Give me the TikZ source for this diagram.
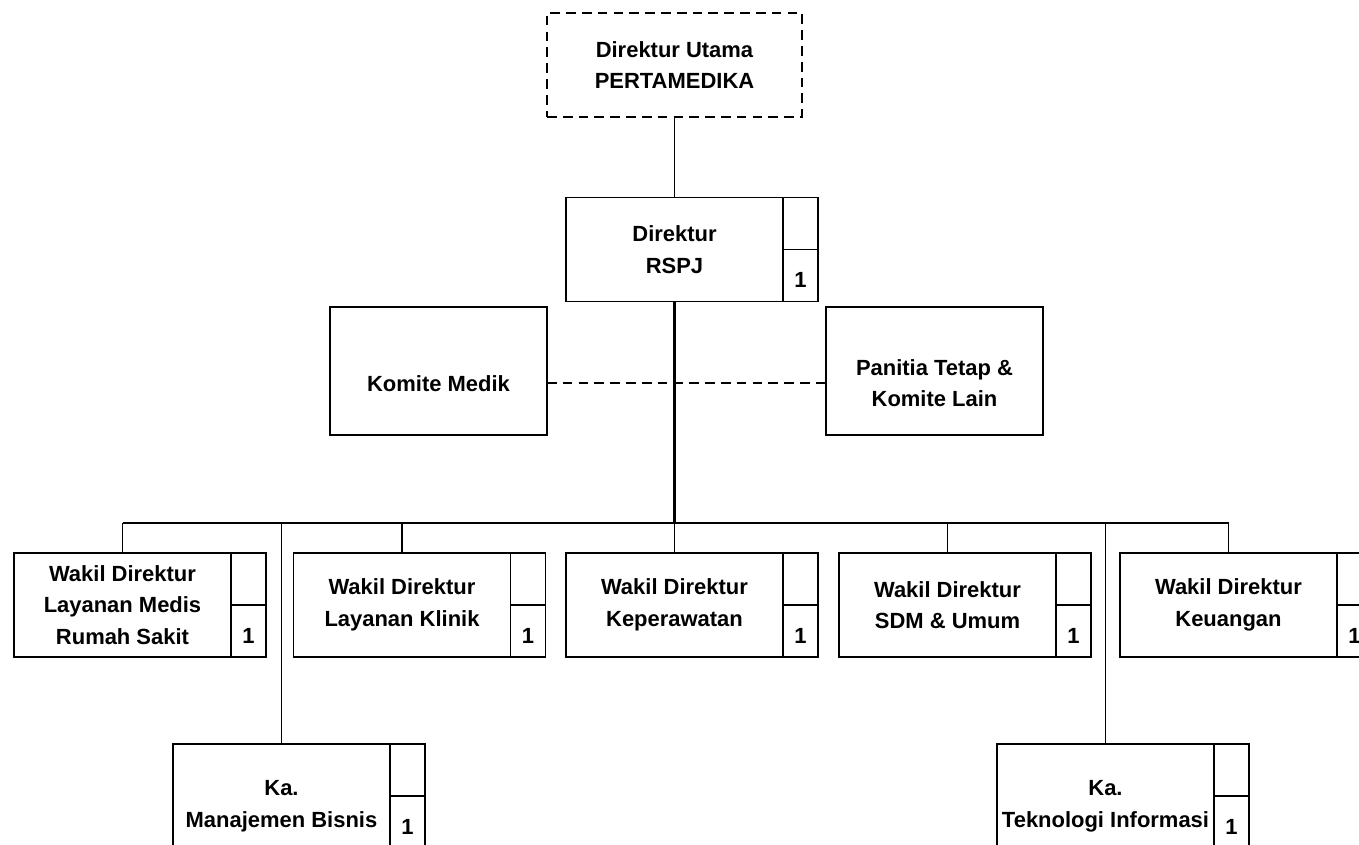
\documentclass[tikz,border=0pt]{standalone}
\usepackage{fontspec}
\setmainfont{Liberation Sans}
\usetikzlibrary{positioning}

\begin{document}
\begin{tikzpicture}[x=0.02cm, y=-0.02cm, node distance=0pt, thick,
    unit/.style={draw, line width=1.1pt, outer sep=0pt, inner sep=0pt, minimum width=4.34cm, minimum height=2.08cm, align=center, font=\bfseries\fontsize{12.5}{18}\selectfont},
    cell/.style={draw, line width=1.1pt, outer sep=0pt, inner sep=0pt, minimum width=0.7cm, minimum height=1.04cm, text height=14pt, text depth=0pt, font=\bfseries\fontsize{12.5}{18}\selectfont},
    staff/.style={unit, minimum height=2.56cm, text height=23pt},
    link/.style={line width=0.8pt}]
  \useasboundingbox (0,0) rectangle (1359,845);

  % top level
  \node[unit, dash pattern=on 5.5pt off 3.5pt, minimum width=5.1cm] (utama) at (674.5,65) {Direktur Utama\\PERTAMEDIKA};
  \node[unit] (direktur) at (674.5,249.5) {Direktur\\RSPJ};
  \node[cell, below right=of direktur.north east] (direkturA) {};
  \node[cell, below=of direkturA] (direkturB) {1};

  % staff
  \node[staff] (komite) at (438.5,371) {Komite Medik};
  \node[staff, text height=40.7pt] (panitia) at (934.5,371) {Panitia Tetap \&\\Komite Lain};
  \coordinate (staffLine) at (674.5,383);

  % wakil direktur
  \node[unit] (wdMedis) at (122.5,605) {Wakil Direktur\\Layanan Medis\\Rumah Sakit};
  \node[cell, below right=of wdMedis.north east] (wdMedisA) {};
  \node[cell, below=of wdMedisA] (wdMedisB) {1};
  \node[unit] (wdKlinik) at (402,605) {Wakil Direktur\\Layanan Klinik};
  \node[cell, below right=of wdKlinik.north east] (wdKlinikA) {};
  \node[cell, below=of wdKlinikA] (wdKlinikB) {1};
  \node[unit] (wdRawat) at (674.5,605) {Wakil Direktur\\Keperawatan};
  \node[cell, below right=of wdRawat.north east] (wdRawatA) {};
  \node[cell, below=of wdRawatA] (wdRawatB) {1};
  \node[unit] (wdSdm) at (947.5,605) {Wakil Direktur\\SDM \& Umum};
  \node[cell, below right=of wdSdm.north east] (wdSdmA) {};
  \node[cell, below=of wdSdmA] (wdSdmB) {1};
  \node[unit] (wdUang) at (1228.5,605) {Wakil Direktur\\Keuangan};
  \node[cell, below right=of wdUang.north east] (wdUangA) {};
  \node[cell, below=of wdUangA] (wdUangB) {1};

  % kepala
  \node[unit, minimum height=2.48cm] (kaBisnis) at (281.5,806) {Ka.\\Manajemen Bisnis};
  \node[cell, below right=of kaBisnis.north east] (kaBisnisA) {};
  \node[cell, below=of kaBisnisA] (kaBisnisB) {1};
  \node[unit, minimum height=2.48cm] (kaTi) at (1105.5,806) {Ka.\\Teknologi Informasi};
  \node[cell, below right=of kaTi.north east] (kaTiA) {};
  \node[cell, below=of kaTiA] (kaTiB) {1};

  \coordinate (bus) at (674.5,523);

  \draw[link] (utama) -- (direktur);
  \draw[line width=1.6pt] (direktur.south) -- (bus);
  \draw[link, dash pattern=on 5.5pt off 3.5pt] (komite.east |- staffLine) -- (panitia.west |- staffLine);
  \draw[line width=1.2pt] (bus -| wdMedis.north) -- (bus -| wdUang.north);
  \draw[link] (wdMedis.north) -- (wdMedis.north |- bus);
  \draw[link] (wdKlinik.north) -- (wdKlinik.north |- bus);
  \draw[link] (wdRawat.north) -- (wdRawat.north |- bus);
  \draw[link] (wdSdm.north) -- (wdSdm.north |- bus);
  \draw[link] (wdUang.north) -- (wdUang.north |- bus);
  \draw[link] (kaBisnis.north) -- (kaBisnis.north |- bus);
  \draw[link] (kaTi.north) -- (kaTi.north |- bus);
\end{tikzpicture}
\end{document}
